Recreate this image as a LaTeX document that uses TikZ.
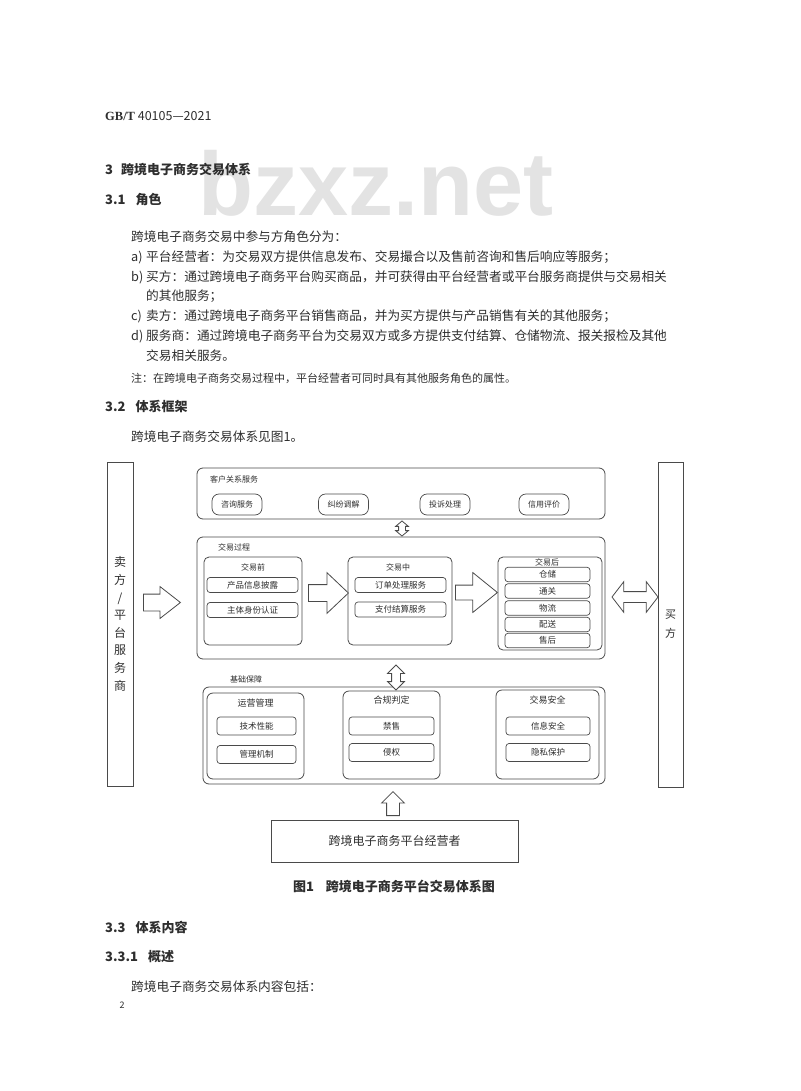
\documentclass[tikz,border=0pt]{standalone}
\usepackage{fontspec}
\setmainfont{Noto Sans CJK SC}
\newfontfamily\gbserif{Liberation Serif}
\newfontfamily\wmfont{Liberation Sans}
\usetikzlibrary{shapes.arrows}
\definecolor{InkText}{HTML}{2E2E2E}
\definecolor{FrameGrey}{HTML}{4A4A4A}
\definecolor{MarkGrey}{HTML}{E3E3E3}

\begin{document}
\begin{tikzpicture}[x=1pt,y=-1pt,
  every node/.style={text=InkText,inner sep=0pt},
  line/.style={anchor=west,font=\fontsize{12.7}{12.7}\selectfont},
  head/.style={anchor=west,font=\fontsize{13}{13}\selectfont\bfseries},
  plain/.style={draw=FrameGrey,line width=.8pt},
  frame/.style={draw=FrameGrey,line width=.8pt,rounded corners=6pt},
  tag/.style={font=\fontsize{8}{8}\selectfont},
  pill/.style={draw=FrameGrey,line width=.7pt,rounded corners=7pt,minimum width=50pt,minimum height=21pt,font=\fontsize{8}{8}\selectfont},
  item/.style={draw=FrameGrey,line width=.7pt,rounded corners=3pt,minimum height=15pt,font=\fontsize{8.5}{8.5}\selectfont},
  hollow/.style={draw=FrameGrey,line width=.8pt,fill=white},
  blk/.style n args={4}{hollow,single arrow,minimum height=#1,inner ysep=#2,inner xsep=0pt,single arrow head extend=#3,single arrow tip angle=#4},
  dblk/.style n args={4}{hollow,double arrow,minimum height=#1,inner ysep=#2,inner xsep=0pt,double arrow head extend=#3,double arrow tip angle=#4}]
\fill[white] (0,0) rectangle (800,1091); \useasboundingbox (0,0) rectangle (800,1091);
\node[anchor=base west,font=\wmfont\bfseries\fontsize{90}{90}\selectfont,text=MarkGrey] (mark) at (198,215) {bzxz.net};
% page text above the figure
\node[anchor=west,font=\fontsize{12.5}{12.5}\selectfont] (hdr) at (105,116) {{\gbserif\bfseries GB/T} 40105—2021};
\node[head] (sec3) at (105,170) {3\hspace{8pt}跨境电子商务交易体系};
\node[head] (sec31) at (105,200) {3.1\hspace{10pt}角色};
\node[line] (p0) at (131,237) {跨境电子商务交易中参与方角色分为：};
\node[line] (pa) at (131,257) {\makebox[15pt][l]{a)}平台经营者：为交易双方提供信息发布、交易撮合以及售前咨询和售后响应等服务；};
\node[line] (pb) at (131,277) {\makebox[15pt][l]{b)}买方：通过跨境电子商务平台购买商品，并可获得由平台经营者或平台服务商提供与交易相关};
\node[line] (pb2) at (146,296) {的其他服务；};
\node[line] (pc) at (131,316) {\makebox[15pt][l]{c)}卖方：通过跨境电子商务平台销售商品，并为买方提供与产品销售有关的其他服务；};
\node[line] (pd) at (131,336) {\makebox[15pt][l]{d)}服务商：通过跨境电子商务平台为交易双方或多方提供支付结算、仓储物流、报关报检及其他};
\node[line] (pd2) at (146,356) {交易相关服务。};
\node[anchor=west,font=\fontsize{11}{11}\selectfont] (note) at (131,378) {注：在跨境电子商务交易过程中，平台经营者可同时具有其他服务角色的属性。};
\node[head] (sec32) at (105,407) {3.2\hspace{10pt}体系框架};
\node[line] (p32) at (131,437) {跨境电子商务交易体系见图1。};
% figure 1
\node[plain,minimum width=26pt,minimum height=324pt,align=center,font=\fontsize{12}{17.6}\selectfont] (seller) at (120,624) {卖\\方\\/\\平\\台\\服\\务\\商};
\node[plain,minimum width=25pt,minimum height=325pt,align=center,font=\fontsize{11}{19}\selectfont] (buyer) at (670.5,624.5) {买\\方};
\node[frame,minimum width=408pt,minimum height=51pt] (crm) at (401,493.5) {};
\node[tag,anchor=west] (crmtag) at (210,479) {客户关系服务};
\node[pill] (ask) at (237,504.5) {咨询服务};
\node[pill] (dispute) at (343.5,504.5) {纠纷调解};
\node[pill] (complain) at (445,504.5) {投诉处理};
\node[pill] (credit) at (544,504.5) {信用评价};
\node[frame,minimum width=408pt,minimum height=122pt] (proc) at (401,598) {};
\node[tag,anchor=west] (proctag) at (218,547) {交易过程};
\node[frame,rounded corners=5pt,minimum width=98pt,minimum height=88pt] (pre) at (253,601) {};
\node[tag] (pretag) at (253,567) {交易前};
\node[item,minimum width=91pt] (info) at (252.5,585) {产品信息披露};
\node[item,minimum width=91pt] (ident) at (252.5,610) {主体身份认证};
\node[frame,rounded corners=5pt,minimum width=104pt,minimum height=88pt] (mid) at (400,601) {};
\node[tag] (midtag) at (398,567) {交易中};
\node[item,minimum width=91pt] (order) at (400.5,585) {订单处理服务};
\node[item,minimum width=91pt] (pay) at (400.5,609.5) {支付结算服务};
\node[frame,rounded corners=5pt,minimum width=104pt,minimum height=93pt] (post) at (550,603.5) {};
\node[tag] (posttag) at (547,562) {交易后};
\node[item,minimum width=85pt,minimum height=14.5pt] (store) at (547.5,574.5) {仓储};
\node[item,minimum width=85pt,minimum height=14.5pt] (customs) at (547.5,591) {通关};
\node[item,minimum width=85pt,minimum height=14.5pt] (logi) at (547.5,608) {物流};
\node[item,minimum width=85pt,minimum height=14.5pt] (deliv) at (547.5,624.5) {配送};
\node[item,minimum width=85pt,minimum height=14.5pt] (after) at (547.5,640.5) {售后};
\node[frame,minimum width=402pt,minimum height=97pt] (base) at (404,735.5) {};
\node[tag,anchor=west] (basetag) at (230,679) {基础保障};
\node[frame,minimum width=97pt,minimum height=86pt] (ops) at (255.5,736) {};
\node[tag,font=\fontsize{9}{9}\selectfont] (opstag) at (255.5,703) {运营管理};
\node[item,minimum width=79pt,minimum height=18pt] (tech) at (256.5,726) {技术性能};
\node[item,minimum width=79pt,minimum height=18pt] (mgmt) at (256.5,754.5) {管理机制};
\node[frame,minimum width=97pt,minimum height=88pt] (comp) at (391.5,735) {};
\node[tag,font=\fontsize{9}{9}\selectfont] (comptag) at (391.5,700) {合规判定};
\node[item,minimum width=85pt,minimum height=18pt] (ban) at (391.5,726) {禁售};
\node[item,minimum width=85pt,minimum height=18pt] (infr) at (391.5,752.5) {侵权};
\node[frame,minimum width=103pt,minimum height=89pt] (safe) at (547.5,734.5) {};
\node[tag,font=\fontsize{9}{9}\selectfont] (safetag) at (547.5,700) {交易安全};
\node[item,minimum width=84pt,minimum height=18pt] (infosec) at (548,726) {信息安全};
\node[item,minimum width=84pt,minimum height=18pt] (priv) at (548,752.5) {隐私保护};
\node[plain,minimum width=247pt,minimum height=42pt,font=\fontsize{12}{12}\selectfont] (oper) at (394.5,841) {跨境电子商务平台经营者};
% hollow block arrows
\node[blk={37pt}{8pt}{7.5pt}{76},anchor=tail] (a-sell) at (143,602.5) {};
\node[blk={40pt}{8pt}{12pt}{87},anchor=tail] (a-pre) at (308,593) {};
\node[blk={42pt}{7pt}{12.5pt}{78},anchor=tail] (a-mid) at (455,592.5) {};
\node[dblk={46pt}{5pt}{10pt}{105}] (a-buy) at (635,597) {};
\node[dblk={15pt}{3pt}{3pt}{100},rotate=90] (v-crm) at (402,528.5) {};
\node[dblk={25pt}{4pt}{4pt}{90},rotate=90] (v-base) at (396,677.5) {};
\node[blk={24pt}{6pt}{5pt}{90},anchor=tail,rotate=90] (a-oper) at (393,816) {};
\node[font=\fontsize{13}{13}\selectfont\bfseries] (cap) at (394,886) {图1\hspace{12pt}跨境电子商务平台交易体系图};
% page text below the figure
\node[head] (sec33) at (105,927) {3.3\hspace{10pt}体系内容};
\node[head] (sec331) at (105,957) {3.3.1\hspace{10pt}概述};
\node[line] (p331) at (131,987) {跨境电子商务交易体系内容包括：};
\node[font=\fontsize{9}{9}\selectfont] (pageno) at (122,1005) {2};
\end{tikzpicture}
\end{document}
